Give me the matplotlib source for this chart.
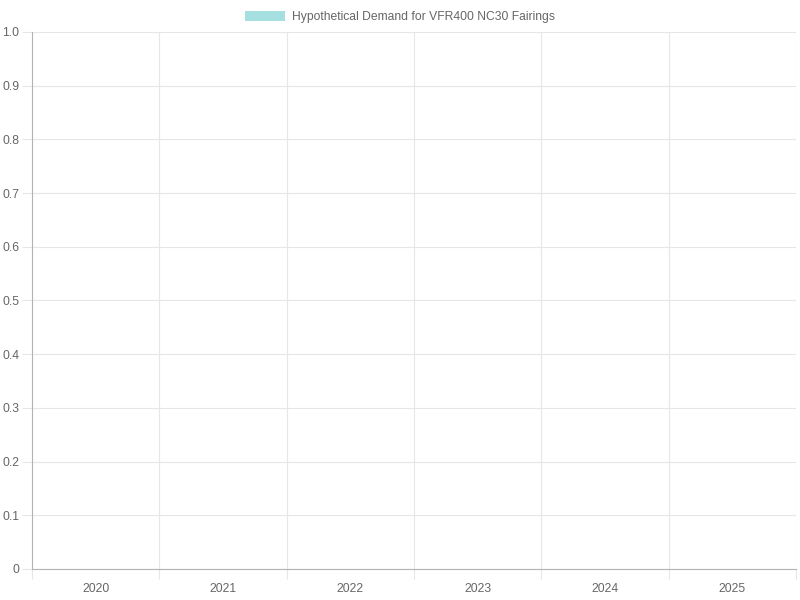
import matplotlib
matplotlib.use('Agg')
import matplotlib.pyplot as plt
from matplotlib.patches import Patch
import numpy as np

# dane z grafu - ziadne hodnoty, graf je prazdny
years = ['2020', '2021', '2022', '2023', '2024', '2025']
demand = []  # hypoteticky dopyt, bez dat
y_ticks = [0, 0.1, 0.2, 0.3, 0.4, 0.5, 0.6, 0.7, 0.8, 0.9, 1.0]
y_labels = ['0', '0.1', '0.2', '0.3', '0.4', '0.5', '0.6', '0.7', '0.8', '0.9', '1.0']
series_name = 'Hypothetical Demand for VFR400 NC30 Fairings'

plt.rcParams['font.family'] = ['Liberation Sans', 'DejaVu Sans']

fig = plt.figure(figsize=(8, 6), dpi=100)
ax = fig.add_axes([0.04, 0.0517, 0.955, 0.895])

bar_color = '#a5dfdf'
ax.bar(years[:len(demand)], demand, color=bar_color)

ax.set_xlim(-0.5, len(years) - 0.5)
ax.set_ylim(0, 1.0)

grid_col = '#e6e6e6'
axis_col = '#b3b3b3'

# x os - popisky v strede, mriezka na hraniciach
ax.set_xticks(range(len(years)))
ax.set_xticklabels(years)
ax.set_xticks(np.arange(-0.5, len(years)), minor=True)
ax.tick_params(axis='x', which='major', length=0, pad=10, labelsize=8.7, labelcolor='#666666')
ax.tick_params(axis='x', which='minor', length=7.5, color=grid_col, width=0.8)
ax.grid(True, axis='x', which='minor', color=grid_col, lw=0.8)

ax.set_yticks(y_ticks)
ax.set_yticklabels(y_labels)
ax.tick_params(axis='y', length=7, color=grid_col, width=0.8, pad=2, labelsize=8.7, labelcolor='#666666')
ax.grid(True, axis='y', which='major', color=grid_col, lw=0.8)
ax.set_axisbelow(True)

for s in ['top', 'right']:
    ax.spines[s].set_visible(False)
ax.spines['left'].set_color(axis_col)
ax.spines['bottom'].set_color(axis_col)
ax.spines['left'].set_linewidth(0.8)
ax.spines['bottom'].set_linewidth(0.8)

# legenda hore v strede
handles = [Patch(facecolor=bar_color, edgecolor='none', label=series_name)]
fig.legend(handles=handles, loc='center', bbox_to_anchor=(0.5, 0.9715), frameon=False,
           fontsize=8.7, labelcolor='#666666', handlelength=3.3, handleheight=0.95,
           handletextpad=0.55)

fig.savefig('out.png', dpi=100)
